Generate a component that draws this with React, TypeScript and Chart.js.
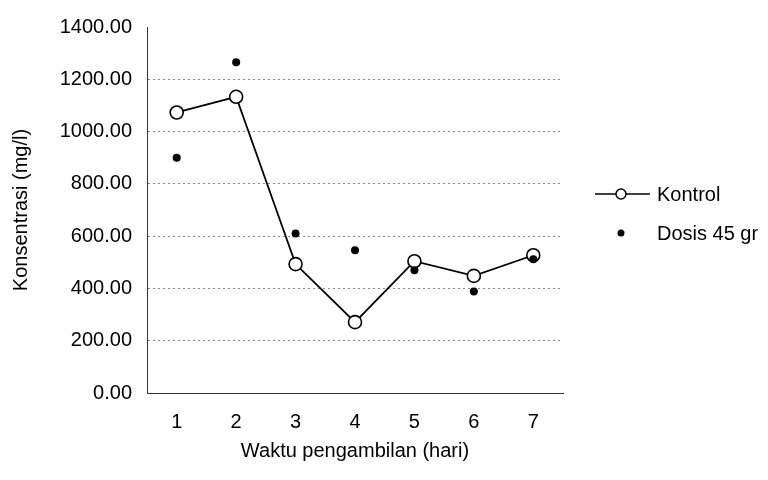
import React, { useEffect, useRef } from "react";
import { Chart, registerables } from "chart.js";

Chart.register(...registerables);

const categories = ["1", "2", "3", "4", "5", "6", "7"];
const kontrolValues = [1073, 1133, 493, 271, 504, 448, 527];
const dosisValues = [900, 1265, 610, 546, 470, 388, 512];
const seriesNames = ["Kontrol", "Dosis 45 gr"];
const yTitle = "Konsentrasi (mg/l)";
const xTitle = "Waktu pengambilan (hari)";

const FONT = "'Liberation Sans', Arial, sans-serif";

const legendPlugin = {
  id: "customLegend",
  afterDraw(chart: any) {
    const ctx = chart.ctx;
    ctx.save();
    ctx.font = `20px ${FONT}`;
    ctx.textBaseline = "middle";
    ctx.fillStyle = "#000";
    // Kontrol
    const y1 = 194;
    ctx.strokeStyle = "#000";
    ctx.lineWidth = 1.5;
    ctx.beginPath();
    ctx.moveTo(595, y1);
    ctx.lineTo(650, y1);
    ctx.stroke();
    ctx.beginPath();
    ctx.arc(621, y1, 5, 0, Math.PI * 2);
    ctx.fillStyle = "#fff";
    ctx.fill();
    ctx.stroke();
    ctx.fillStyle = "#000";
    ctx.fillText(chart.data.datasets[0].label, 657, y1 + 1);
    // Dosis
    const y2 = 233;
    ctx.beginPath();
    ctx.arc(621, y2, 3.5, 0, Math.PI * 2);
    ctx.fill();
    ctx.fillText(chart.data.datasets[1].label, 657, y2 + 1);
    ctx.restore();
  },
};

export default function App() {
  const ref = useRef<HTMLCanvasElement>(null);
  useEffect(() => {
    const chart = new Chart(ref.current!, {
      type: "line",
      data: {
        labels: categories,
        datasets: [
          {
            label: seriesNames[0],
            data: kontrolValues,
            order: 1,
            borderColor: "#000",
            borderWidth: 1.8,
            pointRadius: 6.5,
            pointBackgroundColor: "#fff",
            pointBorderColor: "#000",
            pointBorderWidth: 1.6,
            tension: 0,
          },
          {
            label: seriesNames[1],
            data: dosisValues,
            order: 0,
            showLine: false,
            borderColor: "#000",
            pointRadius: 4,
            pointBackgroundColor: "#000",
            pointBorderColor: "#000",
            pointBorderWidth: 0,
          },
        ],
      },
      options: {
        animation: false,
        responsive: false,
        devicePixelRatio: 1,
        layout: { padding: { top: 21, right: 205, bottom: 0, left: 0 } },
        plugins: { legend: { display: false }, tooltip: { enabled: false } },
        scales: {
          x: {
            offset: true,
            grid: { display: false, drawTicks: false },
            border: { display: true, color: "#333", width: 1 },
            ticks: { color: "#000", font: { family: FONT, size: 20 }, padding: 17 },
            title: {
              display: true,
              text: xTitle,
              color: "#000",
              font: { family: FONT, size: 20 },
              padding: { top: 0, bottom: 17 },
            },
            afterFit: (s: any) => {
              s.height = 87;
            },
          },
          y: {
            min: 0,
            max: 1400,
            ticks: {
              stepSize: 200,
              color: "#000",
              font: { family: FONT, size: 20 },
              padding: 15,
              callback: (v: any) => Number(v).toFixed(2),
            },
            grid: {
              drawTicks: false,
              color: (c: any) => (c.tick && (c.tick.value === 1400 || c.tick.value === 0) ? "rgba(0,0,0,0)" : "#8a8a8a"),
              lineWidth: 1,
            },
            border: { display: true, color: "#333", width: 1, dash: [2, 3] },
            title: {
              display: true,
              text: yTitle,
              color: "#000",
              font: { family: FONT, size: 20 },
              padding: { top: 9, bottom: 0 },
            },
            afterFit: (s: any) => {
              s.width = 147;
            },
          },
        },
      },
      plugins: [legendPlugin],
    });
    return () => chart.destroy();
  }, []);
  return (
    <div style={{ position: "fixed", left: 0, top: 0, width: 768, height: 480, background: "#fff" }}>
      <canvas ref={ref} width={768} height={480} style={{ width: 768, height: 480 }} />
    </div>
  );
}
